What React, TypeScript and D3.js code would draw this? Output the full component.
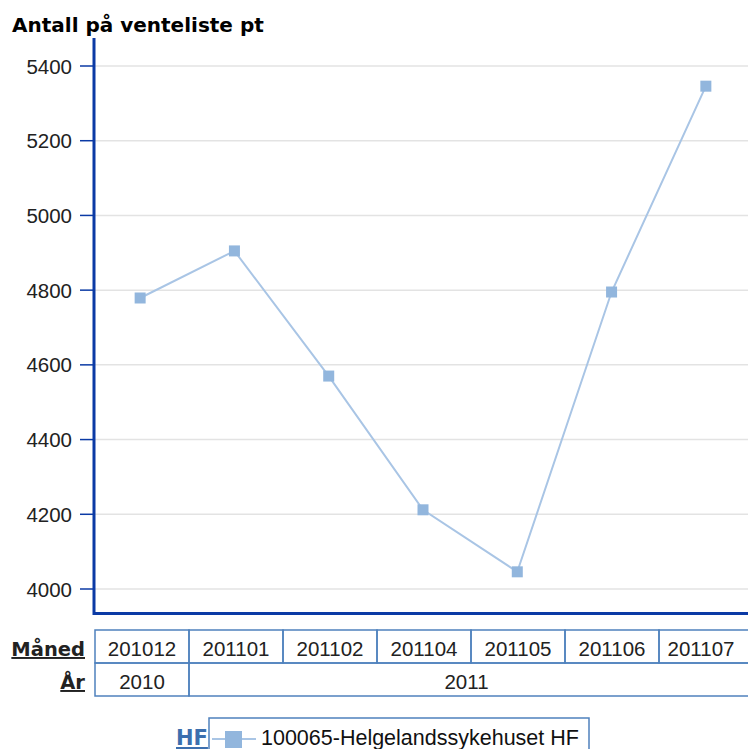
import React from "react";
import * as d3 from "d3";

const months = ["201012", "201101", "201102", "201104", "201105", "201106", "201107"];
const values = [4779, 4905, 4570, 4212, 4046, 4795, 5346];
const years = [
  { label: "2010", span: 1 },
  { label: "2011", span: 6 },
];
const yTicks = [4000, 4200, 4400, 4600, 4800, 5000, 5200, 5400];
const seriesName = "100065-Helgelandssykehuset HF";

export default function App() {
  const W = 748, H = 749;
  const y = d3.scaleLinear().domain([4000, 5400]).range([589, 66]);
  const x = d3.scaleBand<string>().domain(months).range([93, 753]);
  const xt = d3.scaleBand<string>().domain(months).range([95, 753]);
  const axisColor = "#0b3aa5";
  const lineColor = "#a9c5e5";
  const markColor = "#92b6dd";
  const tableColor = "#4f81bd";
  const line = d3.line<number>().x((_, i) => x(months[i])! + x.bandwidth() / 2).y((v) => y(v));
  const font = "'Liberation Sans', Arial, sans-serif";
  const bold = "'DejaVu Sans', Verdana, sans-serif";
  let acc = 0;
  return (
    <svg width={W} height={H} style={{ position: "absolute", left: 0, top: 0 }}>
      <rect width={W} height={H} fill="#fff" />
      <text x={12} y={32} fontFamily={bold} fontWeight="bold" fontSize={20} fill="#000">
        Antall på venteliste pt
      </text>
      {yTicks.map((t) => (
        <g key={t}>
          <line x1={95} x2={748} y1={y(t)} y2={y(t)} stroke="#e3e3e3" strokeWidth={1.5} />
          <line x1={80} x2={94} y1={y(t)} y2={y(t)} stroke={axisColor} strokeWidth={1.5} />
          <text x={72} y={y(t) + 7.5} textAnchor="end" fontFamily={font} fontSize={20.5} fill="#222">
            {t}
          </text>
        </g>
      ))}
      <line x1={94} x2={94} y1={38} y2={615} stroke={axisColor} strokeWidth={3} />
      <line x1={93} x2={748} y1={613.5} y2={613.5} stroke={axisColor} strokeWidth={3} />
      <path d={line(values)!} fill="none" stroke={lineColor} strokeWidth={2} />
      {values.map((v, i) => (
        <rect key={i} x={x(months[i])! + x.bandwidth() / 2 - 5.5} y={y(v) - 5.5} width={11} height={11} fill={markColor} />
      ))}
      {/* table */}
      <g fontFamily={font} fontSize={20.5} fill="#222">
        {months.map((m) => (
          <g key={m}>
            <rect x={xt(m)!} y={630} width={xt.bandwidth()} height={33} fill="none" stroke={tableColor} strokeWidth={1.5} />
            <text x={Math.min(xt(m)! + xt.bandwidth() / 2, 748 - 47)} y={656} textAnchor="middle">{m}</text>
          </g>
        ))}
        {years.map((yr) => {
          const start = xt(months[acc])!;
          const end = acc + yr.span >= months.length ? 753 : xt(months[acc + yr.span])!;
          acc += yr.span;
          const cx = yr.span === 1 ? (start + end) / 2 : (start + 748) / 2 - 2;
          return (
            <g key={yr.label}>
              <rect x={start} y={663} width={end - start} height={33} fill="none" stroke={tableColor} strokeWidth={1.5} />
              <text x={cx} y={689} textAnchor="middle">{yr.label}</text>
            </g>
          );
        })}
      </g>
      <text x={85} y={656} textAnchor="end" fontFamily={bold} fontWeight="bold" fontSize={19.5} fill="#222" textDecoration="underline">
        Måned
      </text>
      <text x={85} y={689} textAnchor="end" fontFamily={bold} fontWeight="bold" fontSize={19.5} fill="#222" textDecoration="underline">
        År
      </text>
      {/* legend */}
      <text x={176} y={745} fontFamily={bold} fontWeight="bold" fontSize={21} fill="#3c6fae" textDecoration="underline">
        HF
      </text>
      <rect x={209} y={718} width={380} height={40} fill="none" stroke={tableColor} strokeWidth={1.5} />
      <line x1={212} x2={256} y1={739} y2={739} stroke={lineColor} strokeWidth={2} />
      <rect x={225} y={731} width={17} height={17} fill={markColor} />
      <text x={261} y={745} fontFamily={font} fontSize={21.5} fill="#111">{seriesName}</text>
    </svg>
  );
}
